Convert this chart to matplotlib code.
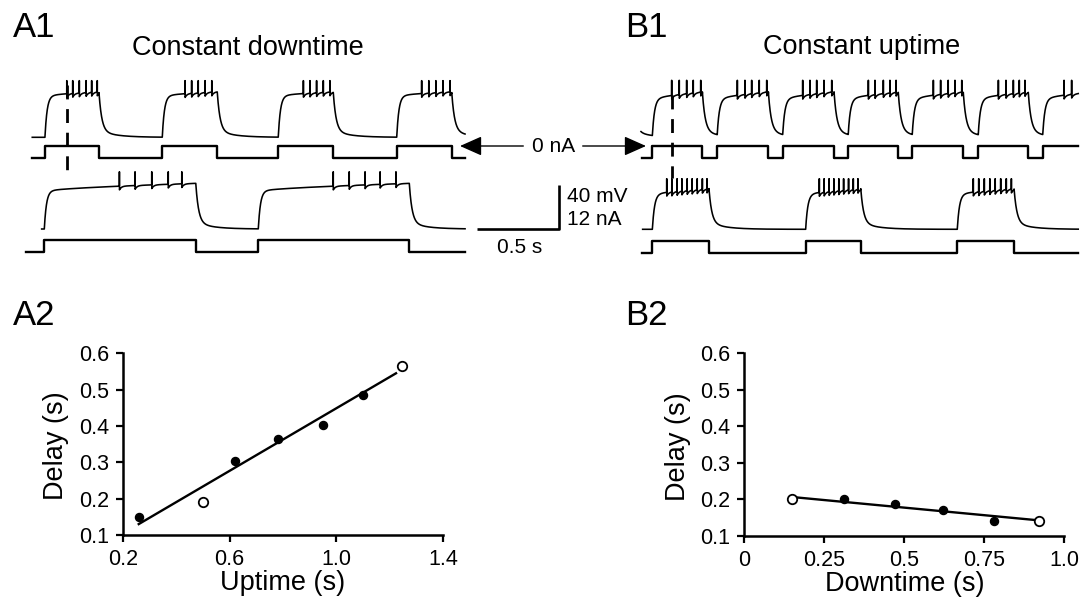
import numpy as np
import matplotlib
matplotlib.use("Agg")
import matplotlib.pyplot as plt
import matplotlib.transforms as mtransforms
from matplotlib.patches import FancyArrowPatch

plt.rcParams['font.family'] = ['Liberation Sans', 'DejaVu Sans']

# ---------------- data ----------------
# A1: constant downtime (times in s)
a1_top_span = [0.044, 2.667]
a1_top_on = [0.121, 0.832, 1.535, 2.253]
a1_top_off = [0.448, 1.165, 1.868, 2.586]
a1_top_spikes = [0.253, 0.289, 0.329, 0.370, 0.404, 0.438,
                 0.970, 1.010, 1.050, 1.091, 1.132,
                 1.687, 1.727, 1.767, 1.808, 1.848,
                 2.404, 2.447, 2.490, 2.533, 2.576]
a1_top_plateau = [37.0, 41.5]     # mV above rest
a1_top_peak = 51.5

a1_bot_span_i = [0.004, 2.667]
a1_bot_span_v = [0.101, 2.667]
a1_bot_on = [0.117, 1.414]
a1_bot_off = [1.035, 2.329]
a1_bot_spikes = [0.572, 0.667, 0.768, 0.868, 0.950,
                 1.868, 1.965, 2.061, 2.152, 2.248]
a1_bot_plateau = [34.0, 41.5]
a1_bot_peak = 52.0

# B1: constant uptime
b1_top_span_i = [0.010, 2.656]
b1_top_span_v = [0.006, 2.656]
b1_top_prev_off = -0.045
b1_top_on = [0.075, 0.468, 0.865, 1.262, 1.650, 2.050, 2.441]
b1_top_off = [0.378, 0.778, 1.176, 1.565, 1.959, 2.353]
b1_top_spikes = [0.192, 0.238, 0.283, 0.323, 0.368,
                 0.590, 0.636, 0.677, 0.723, 0.768,
                 0.986, 1.030, 1.071, 1.115, 1.162,
                 1.384, 1.424, 1.475, 1.515, 1.552,
                 1.778, 1.822, 1.868, 1.909, 1.950,
                 2.172, 2.218, 2.263, 2.299, 2.333,
                 2.570, 2.616]
b1_top_plateau = [34.0, 41.5]
b1_top_peak = 52.0

b1_bot_span_i = [0.010, 2.656]
b1_bot_span_v = [0.016, 2.656]
b1_bot_on = [0.075, 1.004, 1.923]
b1_bot_off = [0.418, 1.338, 2.267]
b1_bot_spikes = [0.162, 0.193, 0.225, 0.254, 0.286, 0.316, 0.347, 0.378, 0.406,
                 1.087, 1.116, 1.146, 1.175, 1.205, 1.234, 1.264, 1.293, 1.321,
                 2.020, 2.053, 2.087, 2.120, 2.153, 2.186, 2.220, 2.251]
b1_bot_plateau = [31.0, 37.0]
b1_bot_peak = 46.0

V_REST = -60.0      # mV
I_ON = 0.0          # nA
I_OFF = -3.4        # nA

# A2: delay vs uptime
a2_up_filled = [0.26, 0.62, 0.78, 0.95, 1.10]
a2_delay_filled = [0.150, 0.304, 0.364, 0.403, 0.485]
a2_up_open = [0.50, 1.245]
a2_delay_open = [0.190, 0.566]
a2_fit_x = [0.26, 1.223]
a2_fit_y = [0.130, 0.545]
a2_xticks = [0.2, 0.6, 1.0, 1.4]
a2_xticklabels = ['0.2', '0.6', '1.0', '1.4']

# B2: delay vs downtime
b2_down_filled = [0.311, 0.471, 0.620, 0.781]
b2_delay_filled = [0.200, 0.188, 0.170, 0.140]
b2_down_open = [0.150, 0.921]
b2_delay_open = [0.2006, 0.140]
b2_fit_x = [0.150, 0.921]
b2_fit_y = [0.206, 0.142]
b2_xticks = [0, 0.25, 0.5, 0.75, 1.0]
b2_xticklabels = ['0', '0.25', '0.5', '0.75', '1.0']

yticks = [0.1, 0.2, 0.3, 0.4, 0.5, 0.6]
yticklabels = ['0.1', '0.2', '0.3', '0.4', '0.5', '0.6']

# ---------------- layout helpers ----------------
W, H = 1087, 603
fig = plt.figure(figsize=(W / 100, H / 100), dpi=100)

PX_PER_S = 165.0
PX_PER_MV = 1.1
PX_PER_NA = 44.0 / 12.0


def px_axes(x0, y0, x1, y1):
    return fig.add_axes([x0 / W, 1 - y1 / H, (x1 - x0) / W, (y1 - y0) / H])


def trace_ax(x_left, t_span, y_top, y_bot, ref_px, ref_val, ppu):
    ax = px_axes(x_left, y_top, x_left + t_span * PX_PER_S, y_bot)
    ax.set_xlim(0, t_span)
    ax.set_ylim(ref_val - (y_bot - ref_px) / ppu, ref_val + (ref_px - y_top) / ppu)
    ax.axis('off')
    ax.patch.set_alpha(0)
    return ax


# ---------------- waveform rendering ----------------
DT = 0.0004
TAU_RISE = 0.013
TAU_FALL = 0.017
TAIL = 6.0
TAU_TAIL = 0.10
AHP = 3.5
TAU_AHP = 0.012


def vm(span, on, off, plat, peak, spikes, prev_off=None):
    t = np.arange(span[0], span[1] + DT / 2, DT)
    v = np.zeros_like(t)
    U = float(np.median(np.array(off[:len(on)]) - np.array(on[:len(off)])))
    edges = sorted([(x, True) for x in on] + [(x, False) for x in off])
    if prev_off is not None:
        seg_start, state, v0 = prev_off, False, plat[1]
    else:
        seg_start, state, v0 = span[0], False, 0.0

    def f(dt, state, v0):
        if state:
            frac = np.clip(dt / U, 0, 1) ** 0.6
            tgt = plat[0] + (plat[1] - plat[0]) * frac
            return tgt + (v0 - plat[0]) * np.exp(-dt / TAU_RISE)
        if v0 <= TAIL:
            return v0 * np.exp(-dt / TAU_TAIL)
        return TAIL * np.exp(-dt / TAU_TAIL) + (v0 - TAIL) * np.exp(-dt / TAU_FALL)

    for te, st in edges + [(np.inf, None)]:
        m = (t >= seg_start) & (t < te)
        v[m] = f(t[m] - seg_start, state, v0)
        if te == np.inf:
            break
        v0 = float(f(np.array(te - seg_start), state, v0))
        seg_start, state = te, st

    for ts in spikes:
        nxt = min([o for o in off if o > ts], default=np.inf)
        m = (t > ts) & (t < nxt)
        v[m] -= AHP * np.exp(-(t[m] - ts) / TAU_AHP)
        i = int(np.argmin(np.abs(t - ts)))
        v[i] = peak
    return t, V_REST + v


def istep(span, on, off):
    edges = sorted([(x, I_ON) for x in on] + [(x, I_OFF) for x in off])
    lev0 = I_OFF if edges[0][1] == I_ON else I_ON
    xs = [span[0]] + [e[0] for e in edges] + [span[1]]
    ys = [lev0] + [e[1] for e in edges] + [edges[-1][1]]
    return xs, ys


VLW = 1.15
ILW = 1.7
TRACE_COL = 'black'

# ---------------- A1 traces ----------------
A1_X, A1_SPAN = 25.0, 2.70
ax_a1v1 = trace_ax(A1_X, A1_SPAN, 70, 140, 137.3, V_REST, PX_PER_MV)
t, v = vm(a1_top_span, a1_top_on, a1_top_off, a1_top_plateau, a1_top_peak, a1_top_spikes)
ax_a1v1.plot(t, v, color=TRACE_COL, lw=VLW, clip_on=False)

ax_a1i1 = trace_ax(A1_X, A1_SPAN, 140, 163, 146.0, I_ON, PX_PER_NA)
xs, ys = istep(a1_top_span, a1_top_on, a1_top_off)
ax_a1i1.step(xs, ys, where='post', color=TRACE_COL, lw=ILW, clip_on=False)

ax_a1v2 = trace_ax(A1_X, A1_SPAN, 163, 233, 229.0, V_REST, PX_PER_MV)
t, v = vm(a1_bot_span_v, a1_bot_on, a1_bot_off, a1_bot_plateau, a1_bot_peak, a1_bot_spikes)
ax_a1v2.plot(t, v, color=TRACE_COL, lw=VLW, clip_on=False)

ax_a1i2 = trace_ax(A1_X, A1_SPAN, 234, 258, 240.0, I_ON, PX_PER_NA)
xs, ys = istep(a1_bot_span_i, a1_bot_on, a1_bot_off)
ax_a1i2.step(xs, ys, where='post', color=TRACE_COL, lw=ILW, clip_on=False)

# ---------------- B1 traces ----------------
B1_X, B1_SPAN = 640.0, 2.68
ax_b1v1 = trace_ax(B1_X, B1_SPAN, 70, 140, 137.5, V_REST, PX_PER_MV)
t, v = vm(b1_top_span_v, b1_top_on, b1_top_off, b1_top_plateau, b1_top_peak, b1_top_spikes,
          prev_off=b1_top_prev_off)
ax_b1v1.plot(t, v, color=TRACE_COL, lw=VLW, clip_on=False)

ax_b1i1 = trace_ax(B1_X, B1_SPAN, 140, 163, 146.0, I_ON, PX_PER_NA)
xs, ys = istep(b1_top_span_i, b1_top_on, b1_top_off)
ax_b1i1.step(xs, ys, where='post', color=TRACE_COL, lw=ILW, clip_on=False)

ax_b1v2 = trace_ax(B1_X, B1_SPAN, 163, 233, 229.3, V_REST, PX_PER_MV)
t, v = vm(b1_bot_span_v, b1_bot_on, b1_bot_off, b1_bot_plateau, b1_bot_peak, b1_bot_spikes)
ax_b1v2.plot(t, v, color=TRACE_COL, lw=VLW, clip_on=False)

ax_b1i2 = trace_ax(B1_X, B1_SPAN, 234, 258, 240.7, I_ON, PX_PER_NA)
xs, ys = istep(b1_bot_span_i, b1_bot_on, b1_bot_off)
ax_b1i2.step(xs, ys, where='post', color=TRACE_COL, lw=ILW, clip_on=False)

# dashed markers at first spike (x in data, y in figure)
for ax, ts, y0, y1 in [(ax_a1v1, a1_top_spikes[0], 85, 178), (ax_b1v1, b1_top_spikes[0], 95, 178)]:
    tr = mtransforms.blended_transform_factory(ax.transData, fig.transFigure)
    ax.plot([ts, ts], [1 - y0 / H, 1 - y1 / H], transform=tr, color='black', lw=2.0,
            linestyle=(0, (5, 3.5)), clip_on=False)

# scale bar drawn in A1 bottom voltage axes (0.5 s, 40 mV)
SB_T_END = (559.3 - A1_X) / PX_PER_S
ax_a1v2.plot([SB_T_END - 0.5, SB_T_END, SB_T_END], [V_REST, V_REST, V_REST + 40],
             color='black', lw=1.9, clip_on=False, solid_capstyle='butt')

TXT = 15
fig.text(567.3 / W, 1 - 196.7 / H, '40 mV', fontsize=TXT, ha='left', va='center')
fig.text(567.3 / W, 1 - 219.3 / H, '12 nA', fontsize=TXT, ha='left', va='center')
fig.text(519.2 / W, 1 - 247.5 / H, '0.5 s', fontsize=TXT, ha='center', va='center')

# 0 nA arrows
fig.text(553.3 / W, 1 - 146.7 / H, '0 nA', fontsize=TXT, ha='center', va='center')
for xa, xb in [(523.3, 460.0), (582.7, 646.0)]:
    arr = FancyArrowPatch((xa / W, 1 - 146.0 / H), (xb / W, 1 - 146.0 / H),
                          transform=fig.transFigure, arrowstyle='-|>,head_length=1.35,head_width=0.6',
                          mutation_scale=10, color='black', lw=1.0, shrinkA=0, shrinkB=0)
    fig.add_artist(arr)

# titles and panel labels
fig.text(12.7 / W, 1 - 37.3 / H, 'A1', fontsize=25, ha='left', va='baseline')
fig.text(625.0 / W, 1 - 36.7 / H, 'B1', fontsize=25, ha='left', va='baseline')
fig.text(12.7 / W, 1 - 325.0 / H, 'A2', fontsize=25, ha='left', va='baseline')
fig.text(625.0 / W, 1 - 325.0 / H, 'B2', fontsize=25, ha='left', va='baseline')
fig.text(131.7 / W, 1 - 55.0 / H, 'Constant downtime', fontsize=19.5, ha='left', va='baseline')
fig.text(762.7 / W, 1 - 54.0 / H, 'Constant uptime', fontsize=19.5, ha='left', va='baseline')


# ---------------- scatter panels ----------------
def style_ax(ax, xlim, xticks, xticklabels, xlabel):
    ax.set_xlim(*xlim)
    ax.set_ylim(0.1, 0.6)
    ax.set_xticks(xticks)
    ax.set_xticklabels(xticklabels)
    ax.set_yticks(yticks)
    ax.set_yticklabels(yticklabels)
    for s in ['top', 'right']:
        ax.spines[s].set_visible(False)
    for s in ['left', 'bottom']:
        ax.spines[s].set_linewidth(1.8)
    ax.tick_params(direction='out', length=5, width=1.6, labelsize=15.5, pad=5)
    ax.set_xlabel(xlabel, fontsize=19.5, va='baseline')
    ax.xaxis.set_label_coords(0.5, (535 - 590) / 181.7)
    ax.set_ylabel('Delay (s)', fontsize=19.5, va='baseline', rotation_mode='anchor')
    ax.yaxis.set_label_coords(-0.185, 0.49)
    ax.patch.set_alpha(0)


ax_a2 = px_axes(122.7, 353.3, 443.3, 535.0)
style_ax(ax_a2, (0.2, 1.4), a2_xticks, a2_xticklabels, 'Uptime (s)')
ax_a2.plot(a2_fit_x, a2_fit_y, color='black', lw=1.7, zorder=2)
ax_a2.plot(a2_up_filled, a2_delay_filled, 'o', color='black', ms=5.8, zorder=3, clip_on=False)
ax_a2.plot(a2_up_open, a2_delay_open, 'o', mfc='white', mec='black', mew=1.3, ms=6.8,
           zorder=4, clip_on=False)

ax_b2 = px_axes(744.3, 353.3, 1064.3, 535.7)
style_ax(ax_b2, (0, 1.0), b2_xticks, b2_xticklabels, 'Downtime (s)')
ax_b2.plot(b2_fit_x, b2_fit_y, color='black', lw=1.7, zorder=2)
ax_b2.plot(b2_down_filled, b2_delay_filled, 'o', color='black', ms=5.8, zorder=3, clip_on=False)
ax_b2.plot(b2_down_open, b2_delay_open, 'o', mfc='white', mec='black', mew=1.3, ms=6.8,
           zorder=4, clip_on=False)

fig.savefig('out.png', dpi=100)
